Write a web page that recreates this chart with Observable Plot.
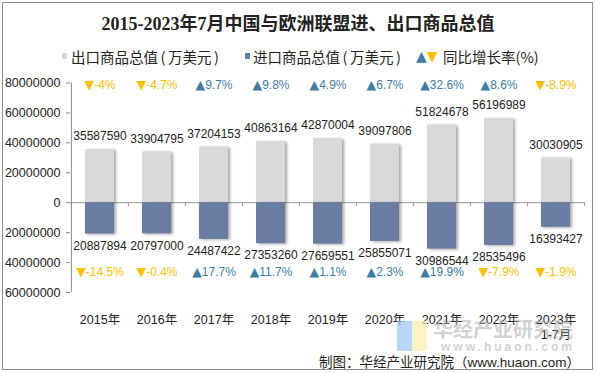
<!DOCTYPE html>
<html>
<head>
<meta charset="utf-8">
<script src="https://cdn.jsdelivr.net/npm/d3@7"></script>
<script src="https://cdn.jsdelivr.net/npm/@observablehq/plot@0.6"></script>
<style>
  html, body { margin: 0; padding: 0; background: #fff; }
  #wrap { position: relative; width: 596px; height: 373px; overflow: hidden; background: #fff; font-family: "Liberation Sans", "Noto Sans CJK SC", sans-serif; }
  #border { position: absolute; left: 2px; top: 2px; border: 1px solid #8c8c8c; box-sizing: border-box; width: 591px; height: 368px; }
  #chart { position: absolute; left: 0; top: 0; }
  .abs { position: absolute; white-space: nowrap; }
  #title { left: 0; width: 596px; top: 12px; text-align: center; font-family: "Liberation Serif", "Noto Sans CJK SC", serif; font-weight: bold; font-size: 18px; line-height: 24px; color: #222; }
  .leg { top: 47px; font-family: "Noto Sans CJK SC", sans-serif; font-size: 14.5px; line-height: 20px; color: #222; }
  .leg .p { padding: 0 2.5px; }
  .sw { position: absolute; top: 53px; width: 5px; height: 6px; }
  #footer { right: 16px; top: 351px; font-family: "Noto Sans CJK SC", "Liberation Sans", sans-serif; font-size: 13.5px; line-height: 20px; color: #222; }
  #footer .en { font-family: "Liberation Sans", sans-serif; }
  .wm { color: rgba(170,170,170,0.55); font-weight: bold; }
</style>
</head>
<body>
<div id="wrap">
  <div id="chart"></div>
  <div id="border"></div>
  <div id="title" class="abs"></div>
  <div class="sw" style="left:62px;background:#d9d9d9"></div>
  <div class="abs leg" id="leg1" style="left:71px"></div>
  <div class="sw" style="left:245px;background:#6a7ca1"></div>
  <div class="abs leg" id="leg2" style="left:253px"></div>
  <div class="abs leg" style="left:416px;font-family:'DejaVu Sans',sans-serif;font-size:14px;top:46px"><span style="color:#3d7ca5">▲</span><span style="color:#ffc000">▼</span></div>
  <div class="abs leg" id="leg3" style="left:443px"></div>
  <div class="abs" style="left:397px;top:321px;width:15px;height:30px;background:rgba(160,200,245,0.75)"></div>
  <div class="abs" style="left:412px;top:321px;width:15px;height:30px;background:rgba(252,238,175,0.75)"></div>
  <div class="abs wm" id="wm1" style="left:433px;top:316px;font-family:'Noto Sans CJK SC',sans-serif;font-size:20px;line-height:26px"></div>
  <div class="abs wm" id="wm2" style="left:441px;top:339px;font-family:'Liberation Sans',sans-serif;font-size:12px;line-height:16px;letter-spacing:3px"></div>
  <div id="footer" class="abs"></div>
</div>
<script>
const titleText = "2015-2023年7月中国与欧洲联盟进、出口商品总值";
const legendLabels = ["出口商品总值(万美元)", "进口商品总值(万美元)", "同比增长率(%)"];
const footerText = ["制图：华经产业研究院（", "www.huaon.com", "）"];
const watermark = ["华经产业研究院", "www.huaon.com"];

const categories = ["2015年", "2016年", "2017年", "2018年", "2019年", "2020年", "2021年", "2022年", "2023年\n1-7月"];
const exportValues = [35587590, 33904795, 37204153, 40863164, 42870004, 39097806, 51824678, 56196989, 30030905];
const importValues = [20887894, 20797000, 24487422, 27353260, 27659551, 25855071, 30986544, 28535496, 16393427];
const exportGrowth = [-4, -4.7, 9.7, 9.8, 4.9, 6.7, 32.6, 8.6, -8.9];
const importGrowth = [-14.5, -0.4, 17.7, 11.7, 1.1, 2.3, 19.9, -7.9, -1.9];
const yTicks = [80000000, 60000000, 40000000, 20000000, 0, -20000000, -40000000, -60000000];

const parenWrap = s => s.replace(/\(/g, '<span class="p">(</span>').replace(/\)/g, '<span class="p">)</span>');
document.getElementById("title").textContent = titleText;
document.getElementById("leg1").innerHTML = parenWrap(legendLabels[0]);
document.getElementById("leg2").innerHTML = parenWrap(legendLabels[1]);
document.getElementById("leg3").textContent = legendLabels[2];
document.getElementById("footer").innerHTML = footerText[0] + '<span class="en">' + footerText[1] + '</span>' + footerText[2];
document.getElementById("wm1").textContent = watermark[0];
document.getElementById("wm2").textContent = watermark[1];

const data = categories.map((c, i) => ({
  cat: c, exp: exportValues[i], imp: importValues[i], eg: exportGrowth[i], ig: importGrowth[i]
}));

const W = 596, H = 373, ML = 70, MR = 11, MT = 82.5, MB = 81;
const step = (W - ML - MR) / categories.length;
const UP = "#3d7ca5", DOWN = "#ffc000";
const tickLen = 4 * 140000000 / (H - MT - MB);
const fmtG = v => (v >= 0 ? "▲" : "▼") + v + "%";

const chart = Plot.plot({
  width: W, height: H,
  marginLeft: ML, marginRight: MR, marginTop: MT, marginBottom: MB,
  style: { fontFamily: "'Liberation Sans', 'Noto Sans CJK SC', sans-serif", fontSize: "12px", background: "transparent", color: "#222" },
  x: { domain: categories, paddingInner: 0.49, paddingOuter: 0.245, label: null },
  y: { domain: [-60000000, 80000000], label: null },
  marks: [
    Plot.ruleY([0], { stroke: "#9a9a9a", strokeWidth: 1 }),
    Plot.ruleX(categories, { x: d => d, dx: -step / 2, y1: 0, y2: -tickLen, stroke: "#9a9a9a" }),
    Plot.ruleX(categories.slice(-1), { x: d => d, dx: step / 2, y1: 0, y2: -tickLen, stroke: "#9a9a9a" }),
    Plot.ruleX(categories.slice(0, 1), { x: d => d, dx: -step / 2, y1: -60000000, y2: 80000000, stroke: "#8a8a8a" }),
    Plot.axisY({ ticks: yTicks, tickSize: 4, tickPadding: 6, tickFormat: d => String(Math.abs(d)), stroke: "#8a8a8a", fill: "#222", fontSize: 12.5, label: null }),
    Plot.axisX({ tickSize: 0, tickPadding: 20, fill: "#222", fontSize: 12.5, lineHeight: 1.24, label: null }),
    Plot.barY(data, { x: "cat", y: "exp", fill: "#d9d9d9" }),
    Plot.barY(data, { x: "cat", y: d => -d.imp, fill: "#6a7ca1" }),
    Plot.text(data, { x: "cat", y: "exp", text: d => String(d.exp), dy: -13, fill: "#222", fontSize: 12 }),
    Plot.text(data, { x: "cat", y: d => -d.imp, text: d => String(d.imp), dy: 12, fill: "#222", fontSize: 12 }),
    Plot.text(data, { x: "cat", frameAnchor: "top", dy: -3, text: d => fmtG(d.eg), fill: d => d.eg >= 0 ? UP : DOWN, fontSize: 12 }),
    Plot.text(data, { x: "cat", frameAnchor: "bottom", dy: -17, text: d => fmtG(d.ig), fill: d => d.ig >= 0 ? UP : DOWN, fontSize: 12 })
  ]
});
chart.querySelectorAll('g[aria-label="bar"]').forEach(g => {
  g.style.filter = "drop-shadow(2.5px 1.5px 1.5px rgba(0,0,0,0.35))";
});
// render the triangle glyph of growth labels in a font with a larger triangle
chart.querySelectorAll("text").forEach(t => {
  const s = t.textContent;
  if (s && (s[0] === "▲" || s[0] === "▼") && t.children.length === 0) {
    t.textContent = "";
    const ns = "http://www.w3.org/2000/svg";
    const a = document.createElementNS(ns, "tspan");
    a.setAttribute("style", "font-family:'DejaVu Sans';font-size:12.5px");
    a.textContent = s[0];
    const b = document.createElementNS(ns, "tspan");
    b.textContent = s.slice(1);
    t.appendChild(a);
    t.appendChild(b);
  }
});
document.getElementById("chart").appendChild(chart);
</script>
</body>
</html>
